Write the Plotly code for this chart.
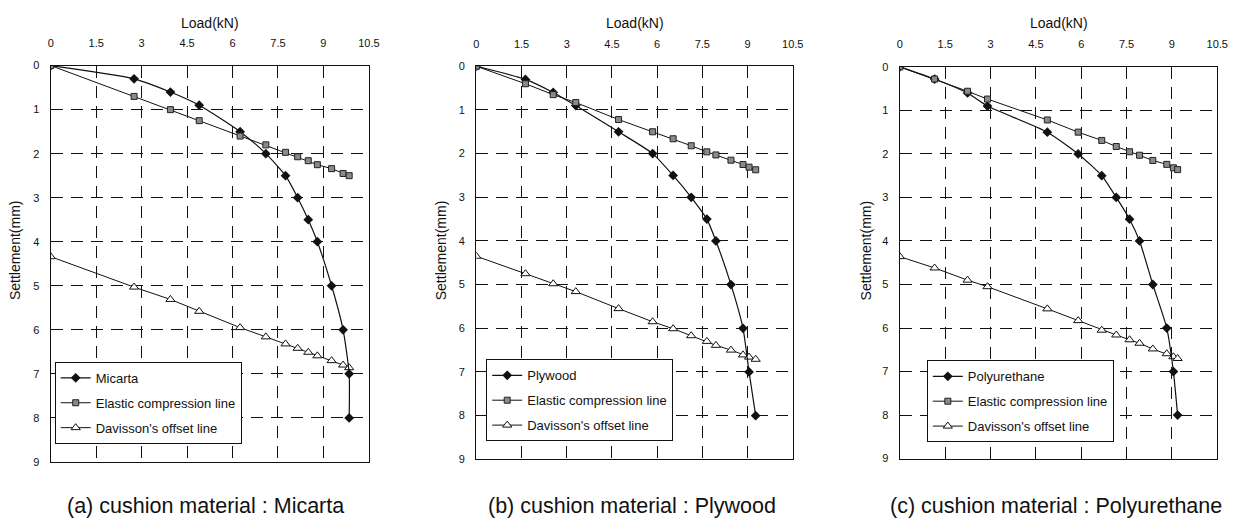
import plotly.graph_objects as go

# ---------------- data ----------------
load_ticks = [0, 1.5, 3, 4.5, 6, 7.5, 9, 10.5]
settle_ticks = [0, 1, 2, 3, 4, 5, 6, 7, 8, 9]

a_name = "Micarta"
a_load = [0, 2.75, 3.95, 4.9, 6.25, 7.1, 7.75, 8.15, 8.5, 8.8, 9.27, 9.65, 9.85, 9.85]
a_settle = [0, 0.3, 0.6, 0.9, 1.5, 2.0, 2.5, 3.0, 3.5, 4.0, 5.0, 6.0, 7.0, 8.0]
a_line_load = [0, 2.75, 3.95, 4.9, 6.25, 7.1, 7.75, 8.15, 8.5, 8.8, 9.27, 9.65, 9.85]
a_elastic = [0, 0.7, 1.0, 1.25, 1.6, 1.8, 1.97, 2.07, 2.16, 2.25, 2.34, 2.45, 2.5]
a_davisson = [4.34, 5.03, 5.31, 5.58, 5.95, 6.16, 6.32, 6.42, 6.51, 6.59, 6.70, 6.80, 6.86]

b_name = "Plywood"
b_load = [0, 1.63, 2.55, 3.3, 4.72, 5.85, 6.53, 7.13, 7.65, 7.95, 8.45, 8.85, 9.05, 9.27]
b_settle = [0, 0.3, 0.6, 0.9, 1.5, 2.0, 2.5, 3.0, 3.5, 4.0, 5.0, 6.0, 7.0, 8.0]
b_line_load = b_load
b_elastic = [0, 0.4, 0.65, 0.83, 1.22, 1.5, 1.66, 1.82, 1.96, 2.03, 2.15, 2.25, 2.31, 2.37]
b_davisson = [4.35, 4.75, 4.98, 5.16, 5.55, 5.85, 6.01, 6.17, 6.30, 6.39, 6.50, 6.61, 6.66, 6.71]

c_name = "Polyurethane"
c_load = [0, 1.15, 2.24, 2.9, 4.88, 5.9, 6.68, 7.16, 7.6, 7.93, 8.37, 8.83, 9.05, 9.19]
c_settle = [0, 0.28, 0.6, 0.9, 1.5, 2.0, 2.5, 3.0, 3.5, 4.0, 5.0, 6.0, 7.0, 8.0]
c_line_load = c_load
c_elastic = [0, 0.28, 0.56, 0.74, 1.22, 1.5, 1.69, 1.83, 1.95, 2.03, 2.15, 2.24, 2.32, 2.36]
c_davisson = [4.36, 4.62, 4.90, 5.05, 5.56, 5.83, 6.05, 6.16, 6.27, 6.35, 6.48, 6.59, 6.66, 6.70]

captions = ["(a) cushion material : Micarta",
            "(b) cushion material : Plywood",
            "(c) cushion material : Polyurethane"]

# ---------------- layout geometry (pixels) ----------------
W, H = 1248, 520
panels = [
    dict(x0=48.3, x1=370.0, y0=61.0, y1=466.7, leg=(52.3, 364.3), cap=205, ttl=209, ytl=12),
    dict(x0=478.7, x1=798.7, y0=61.7, y1=464.0, leg=(488.7, 361.7), cap=636, ttl=639, ytl=443),
    dict(x0=907.0, x1=1228.0, y0=62.3, y1=463.3, leg=(934.3, 362.7), cap=1064.5, ttl=1068, ytl=873),
]
series = [
    (a_name, a_load, a_settle, a_line_load, a_elastic, a_davisson),
    (b_name, b_load, b_settle, b_line_load, b_elastic, b_davisson),
    (c_name, c_load, c_settle, c_line_load, c_elastic, c_davisson),
]

FONT = "Liberation Sans, Arial, sans-serif"
fig = go.Figure()
annotations = []
layout = dict(
    width=W, height=H, margin=dict(l=0, r=0, t=0, b=0),
    paper_bgcolor="white", plot_bgcolor="white",
    font=dict(family=FONT, color="#111"),
    showlegend=True,
)

for i, (p, s) in enumerate(zip(panels, series)):
    k = "" if i == 0 else str(i + 1)
    xa, ya = "x" + k, "y" + k
    leg = "legend" + k
    name, load, settle, line_load, elastic, davisson = s

    fig.add_trace(go.Scatter(
        x=line_load, y=davisson, xaxis=xa, yaxis=ya, name="Davisson's offset line",
        mode="lines+markers", legend=leg, legendrank=3, legendgroup="d" + k,
        line=dict(color="#111", width=1),
        marker=dict(symbol="triangle-up", size=8, color="white",
                    line=dict(color="#111", width=1)),
    ))
    fig.add_trace(go.Scatter(
        x=load, y=settle, xaxis=xa, yaxis=ya, name=name,
        mode="lines+markers", legend=leg, legendrank=1, legendgroup="m" + k,
        line=dict(color="#111", width=1.2, shape="spline", smoothing=0.6),
        marker=dict(symbol="diamond", size=7.5, color="#111"),
    ))
    fig.add_trace(go.Scatter(
        x=line_load, y=elastic, xaxis=xa, yaxis=ya, name="Elastic compression line",
        mode="lines+markers", legend=leg, legendrank=2, legendgroup="e" + k,
        line=dict(color="#111", width=1),
        marker=dict(symbol="square", size=6, color="#8a8a8a",
                    line=dict(color="#222", width=1)),
    ))

    common = dict(showline=True, linecolor="#111", linewidth=1.3, mirror=True,
                  showgrid=True, gridcolor="#111", gridwidth=1, griddash="12px,8px",
                  zeroline=False, ticks="", tickfont=dict(size=11, family=FONT, color="#111"))
    layout["xaxis" + k] = dict(
        common, domain=[p["x0"] / W, p["x1"] / W], anchor=ya, side="top",
        range=[0, 10.5], tickvals=load_ticks, ticktext=[str(t) for t in load_ticks],
        ticklabelstandoff=13,
    )
    layout["yaxis" + k] = dict(
        common, domain=[1 - p["y1"] / H, 1 - p["y0"] / H], anchor=xa,
        range=[9, 0], tickvals=settle_ticks, ticklabelstandoff=8,
    )
    layout[leg] = dict(
        x=p["leg"][0] / W, y=1 - p["leg"][1] / H, xanchor="left", yanchor="top",
        xref="paper", yref="paper",
        bgcolor="white", bordercolor="#111", borderwidth=1,
        font=dict(size=13, family=FONT, color="#111"),
        tracegroupgap=5, itemwidth=30,
    )
    annotations.append(dict(text="Load(kN)", x=p["ttl"] / W, y=1 - 17 / H,
                            xref="paper", yref="paper", showarrow=False,
                            xanchor="center", yanchor="middle",
                            font=dict(size=14, family=FONT, color="#111")))
    annotations.append(dict(text="Settlement(mm)", x=p["ytl"] / W,
                            y=1 - 250 / H,
                            xref="paper", yref="paper", showarrow=False, textangle=-90,
                            xanchor="center", yanchor="middle",
                            font=dict(size=14, family=FONT, color="#111")))
    annotations.append(dict(text=captions[i], x=p["cap"] / W, y=1 - 512 / H,
                            xref="paper", yref="paper", showarrow=False,
                            xanchor="center", yanchor="middle",
                            font=dict(size=21.5, family=FONT, color="#111")))

layout["annotations"] = annotations
fig.update_layout(**layout)
fig.write_html("out.html")
